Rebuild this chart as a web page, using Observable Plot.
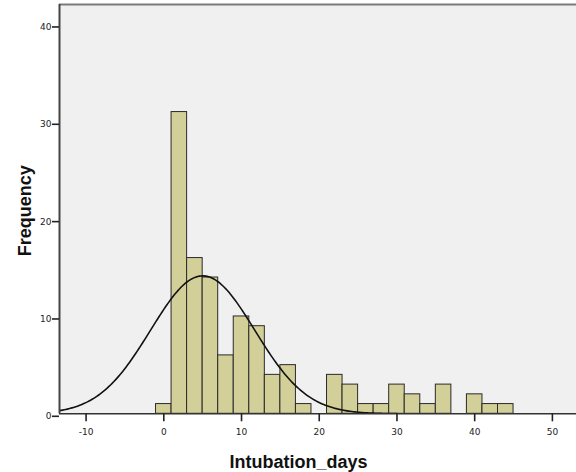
<!DOCTYPE html>
<html>
<head>
<meta charset="utf-8">
<script src="https://cdn.jsdelivr.net/npm/d3@7"></script>
<script src="https://cdn.jsdelivr.net/npm/@observablehq/plot@0.6"></script>
<style>
  html, body { margin: 0; padding: 0; background: #fff; }
  svg { display: block; }
</style>
</head>
<body>
<div id="chart"></div>
<script>
// Histogram bins (lower edge, upper edge, frequency)
const binStart = [-1, 1, 3, 5, 7, 9, 11, 13, 15, 17, 19, 21, 23, 25, 27, 29, 31, 33, 35, 37, 39, 41, 43];
const binEnd   = [ 1, 3, 5, 7, 9, 11, 13, 15, 17, 19, 21, 23, 25, 27, 29, 31, 33, 35, 37, 39, 41, 43, 45];
const frequency = [1, 31, 16, 14, 6, 10, 9, 4, 5, 1, 0, 4, 3, 1, 1, 3, 2, 1, 3, 0, 2, 1, 1];

// Normal curve overlay parameters (as shown)
const curveMean = 5.0;
const curveSD = 6.7;
const binWidth = 2;
const totalN = 119;

const xTicks = [-10, 0, 10, 20, 30, 40, 50];
const yTicks = [0, 10, 20, 30, 40];
const xDomain = [-13.42, 53.1];
const yDomain = [0, 42.05];

const bins = binStart.map((s, i) => ({x1: s, x2: binEnd[i], y: frequency[i]})).filter(d => d.y > 0);

const curve = d3.range(xDomain[0], xDomain[1] + 0.001, 0.2).map(x => ({
  x,
  y: totalN * binWidth / (curveSD * Math.sqrt(2 * Math.PI)) * Math.exp(-0.5 * ((x - curveMean) / curveSD) ** 2)
}));

const chart = Plot.plot({
  width: 576,
  height: 472,
  marginLeft: 59,
  marginRight: 0,
  marginTop: 4,
  marginBottom: 58.7,
  style: {fontFamily: "DejaVu Sans, sans-serif", background: "#fff"},
  x: {domain: xDomain, ticks: xTicks},
  y: {domain: yDomain, ticks: yTicks},
  marks: [
    Plot.frame({fill: "#F0F0F0", stroke: null}),
    Plot.rectY(bins, {x1: "x1", x2: "x2", y: "y", fill: "#D3CF98", stroke: "#2a2a2a", strokeWidth: 1}),
    Plot.line(curve, {x: "x", y: "y", stroke: "#111", strokeWidth: 1.6, clip: true}),
    Plot.ruleY([yDomain[1]], {stroke: "#7a7a7a", strokeWidth: 2}),
    Plot.ruleX([xDomain[0]], {stroke: "#444", strokeWidth: 2}),
    Plot.ruleY([0], {stroke: "#333", strokeWidth: 1.5}),
    Plot.axisX({ticks: xTicks, tickSize: 8, tickPadding: 7, fontSize: 9, stroke: "#222", strokeWidth: 1.6, color: "#222", label: null, tickFormat: d => d < 0 ? "-" + Math.abs(d) : String(d)}),
    Plot.axisY({ticks: yTicks, tickSize: 7, tickPadding: 1, fontSize: 9, dy: 2.5, stroke: "#222", strokeWidth: 1.6, color: "#222", label: null}),
    Plot.text(["Intubation_days"], {frameAnchor: "bottom", textAnchor: "middle", dx: -19.5, dy: 54, fontSize: 18, fontWeight: "bold", fontFamily: "Liberation Sans, Arial, sans-serif", fill: "#111"}),
    Plot.text(["Frequency"], {frameAnchor: "left", textAnchor: "middle", dx: -34, dy: 1.5, rotate: -90, fontSize: 18, fontWeight: "bold", fontFamily: "Liberation Sans, Arial, sans-serif", fill: "#111"})
  ]
});
document.getElementById("chart").appendChild(chart);
</script>
</body>
</html>
